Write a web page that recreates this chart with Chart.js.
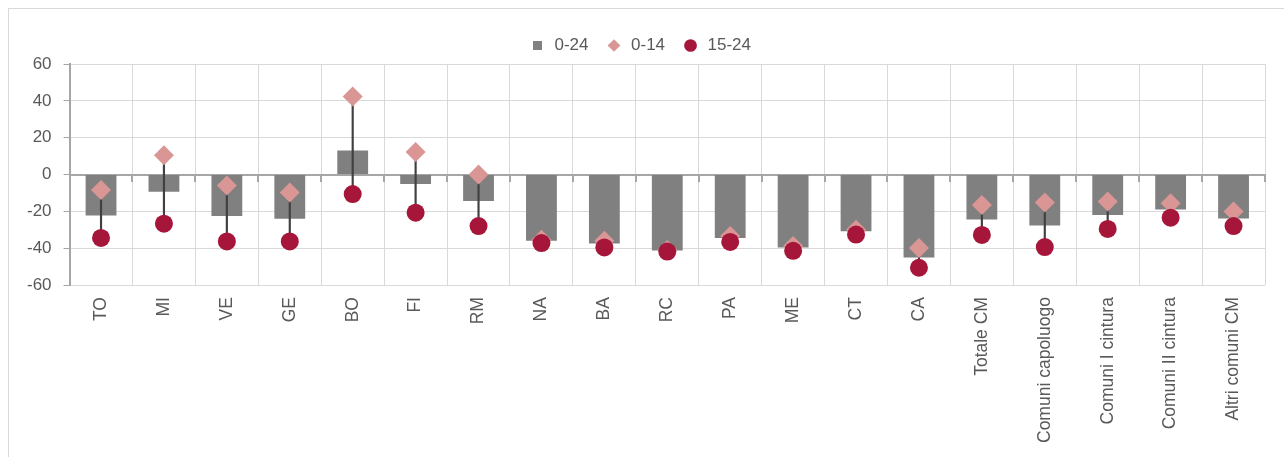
<!DOCTYPE html>
<html>
<head>
<meta charset="utf-8">
<script src="https://cdn.jsdelivr.net/npm/chart.js@4.4.1/dist/chart.umd.min.js"></script>
<style>
  html, body { margin: 0; padding: 0; background: #fff; }
  #wrap { position: relative; width: 1284px; height: 457px; overflow: hidden; }
  #frame { position: absolute; left: 8px; top: 8px; width: 1400px; height: 600px;
           border-top: 1px solid #d9d9d9; border-left: 1px solid #d9d9d9; }
  canvas { position: absolute; left: 0; top: 0; }
</style>
</head>
<body>
<div id="wrap">
  <div id="frame"></div>
  <canvas id="chart" width="1284" height="457"></canvas>
</div>
<script>
  // Categories (cities and aggregates)
  const categories = ['TO', 'MI', 'VE', 'GE', 'BO', 'FI', 'RM', 'NA', 'BA', 'RC', 'PA', 'ME', 'CT', 'CA',
    'Totale CM', 'Comuni capoluogo', 'Comuni I cintura', 'Comuni II cintura', 'Altri comuni CM'];

  // Series values
  const age0to24 = [-22.2, -9.3, -22.5, -24.0, 13.0, -5.1, -14.3, -35.9, -37.5, -41.2, -34.4, -39.6, -30.8, -45.1,
    -24.4, -27.7, -22.0, -19.0, -23.8];
  const age0to14 = [-8.4, 10.5, -6.0, -9.7, 42.3, 12.3, 0.0, -35.4, -35.9, -41.0, -33.3, -38.8, -30.0, -39.9,
    -16.5, -15.2, -14.7, -15.6, -20.1];
  const age15to24 = [-34.4, -26.7, -36.3, -36.3, -10.6, -20.7, -28.0, -37.2, -39.6, -41.8, -36.6, -41.4, -32.6, -50.6,
    -32.8, -39.4, -29.5, -23.4, -28.0];

  // Y axis ticks
  const yTicks = [-60, -40, -20, 0, 20, 40, 60];

  const textColor = '#595959';
  const gridColor = '#d9d9d9';
  const axisColor = '#a6a6a6';

  Chart.defaults.font.family = '"Liberation Sans", Arial, sans-serif';
  Chart.defaults.font.size = 17;
  Chart.defaults.color = textColor;

  // stems joining 0-14 and 15-24 markers
  const stems = age0to14.map((v, i) => [v, age15to24[i]]);

  const ctx = document.getElementById('chart').getContext('2d');
  new Chart(ctx, {
    type: 'bar',
    data: {
      labels: categories,
      datasets: [
        {
          label: '0-24',
          type: 'bar',
          data: age0to24,
          backgroundColor: '#808080',
          pointStyle: 'rect',
          grouped: false,
          barPercentage: 0.49,
          categoryPercentage: 1,
          order: 3
        },
        {
          label: '0-14',
          type: 'line',
          data: age0to14,
          showLine: false,
          pointStyle: 'rectRot',
          pointRadius: 10,
          pointHoverRadius: 10,
          backgroundColor: '#d99694',
          borderColor: '#d99694',
          pointBorderWidth: 0,
          order: 1
        },
        {
          label: '15-24',
          type: 'line',
          data: age15to24,
          showLine: false,
          pointStyle: 'circle',
          pointRadius: 9,
          pointHoverRadius: 9,
          backgroundColor: '#a6163a',
          borderColor: '#a6163a',
          pointBorderWidth: 0,
          order: 0
        },
        {
          label: 'stem',
          type: 'bar',
          data: stems,
          backgroundColor: '#404040',
          barThickness: 1.5,
          grouped: false,
          order: 2
        }
      ]
    },
    options: {
      responsive: false,
      animation: false,
      layout: { padding: { top: 20, left: 15, right: 19, bottom: 2 } },
      plugins: {
        legend: {
          position: 'top',
          labels: {
            usePointStyle: true,
            boxHeight: 9,
            padding: 17,
            color: textColor,
            filter: item => item.text !== 'stem',
            sort: (a, b) => a.datasetIndex - b.datasetIndex
          }
        },
        tooltip: { enabled: false }
      },
      scales: {
        x: {
          grid: { color: gridColor, drawTicks: false, offset: true },
          border: { display: false },
          ticks: { minRotation: 90, maxRotation: 90, padding: 12, autoSkip: false, color: textColor,
                   font: { size: 17.5 } }
        },
        x2: {
          type: 'category',
          labels: categories,
          position: { y: 0 },
          offset: true,
          grid: { drawOnChartArea: false, drawTicks: true, tickLength: 6, color: axisColor, offset: true, lineWidth: 2 },
          border: { display: true, color: axisColor, width: 2 },
          ticks: { display: false }
        },
        y: {
          min: -60,
          max: 60,
          afterBuildTicks: axis => { axis.ticks = yTicks.map(v => ({ value: v })); },
          grid: {
            color: ctx => ctx.tick && ctx.tick.value === 0 ? 'rgba(0,0,0,0)' : gridColor,
            tickColor: axisColor,
            tickLength: 6
          },
          border: { display: true, color: axisColor, width: 2 },
          ticks: { padding: 12, color: textColor }
        }
      }
    }
  });
</script>
</body>
</html>
